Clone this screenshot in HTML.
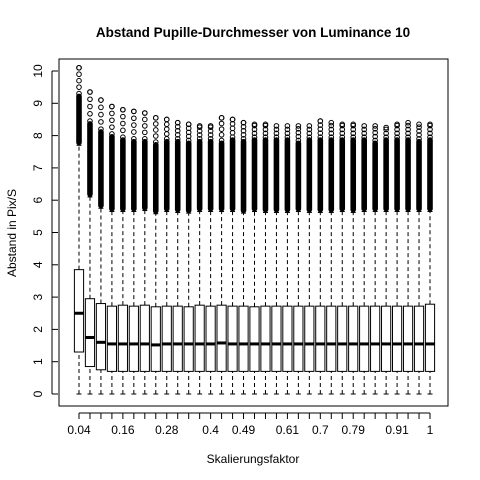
<!DOCTYPE html>
<html><head><meta charset="utf-8"><style>body{margin:0;background:#fff}svg{display:block;font-family:"Liberation Sans",Arial,sans-serif}</style></head>
<body>
<svg id="chart" width="480" height="480" viewBox="0 0 480 480" xmlns="http://www.w3.org/2000/svg">
<rect width="480" height="480" fill="#fff"/>
<text x="253" y="37" text-anchor="middle" font-size="13.5" font-weight="bold">Abstand Pupille-Durchmesser von Luminance 10</text>
<text x="253" y="463" text-anchor="middle" font-size="12">Skalierungsfaktor</text>
<text transform="translate(16,233) rotate(-90)" text-anchor="middle" font-size="12">Abstand in Pix/S</text>
<rect x="59" y="59" width="389" height="347" fill="none" stroke="#000"/>
<g id="yaxis"></g>
<g id="xaxis"></g>
<g id="marks"></g>
</svg>
<script>
const categories = ["0.04","0.07","0.1","0.13","0.16","0.19","0.22","0.25","0.28","0.31","0.34","0.37","0.4","0.43","0.46","0.49","0.52","0.55","0.58","0.61","0.64","0.67","0.7","0.73","0.76","0.79","0.82","0.85","0.88","0.91","0.94","0.97","1"];
const shownLabels = ["0.04","0.16","0.28","0.4","0.49","0.61","0.7","0.79","0.91","1"];
const yTicks = [0,1,2,3,4,5,6,7,8,9,10];
const lowerWhisker = [0,0,0,0,0,0,0,0,0,0,0,0,0,0,0,0,0,0,0,0,0,0,0,0,0,0,0,0,0,0,0,0,0];
const q1 = [1.3,0.85,0.75,0.7,0.7,0.7,0.7,0.7,0.7,0.7,0.7,0.7,0.7,0.7,0.7,0.7,0.7,0.7,0.7,0.7,0.7,0.7,0.7,0.7,0.7,0.7,0.7,0.7,0.7,0.7,0.7,0.7,0.7];
const medians = [2.5,1.75,1.6,1.55,1.55,1.55,1.55,1.52,1.55,1.55,1.55,1.55,1.55,1.58,1.55,1.55,1.55,1.55,1.55,1.55,1.55,1.55,1.55,1.55,1.55,1.55,1.55,1.55,1.55,1.55,1.55,1.55,1.55];
const q3 = [3.85,2.95,2.8,2.72,2.75,2.72,2.75,2.7,2.72,2.72,2.7,2.75,2.72,2.75,2.72,2.72,2.7,2.72,2.72,2.72,2.72,2.72,2.72,2.72,2.72,2.72,2.72,2.72,2.72,2.72,2.72,2.72,2.78];
const upperWhisker = [7.7,6.1,5.75,5.65,5.65,5.65,5.68,5.58,5.65,5.62,5.6,5.65,5.65,5.65,5.65,5.6,5.65,5.62,5.62,5.62,5.65,5.62,5.62,5.62,5.65,5.62,5.65,5.65,5.65,5.65,5.65,5.65,5.65];
const denseTop = [9.3,8.45,8.2,8.05,7.95,7.9,7.9,7.8,7.9,7.9,7.85,7.9,7.9,7.85,7.95,7.9,7.95,7.95,7.95,7.95,7.85,7.95,7.95,7.95,7.95,7.95,7.95,7.85,7.95,7.95,7.95,7.9,7.95];
const outlierMax = [10.1,9.35,9.1,8.9,8.8,8.75,8.7,8.55,8.5,8.4,8.35,8.3,8.3,8.55,8.5,8.4,8.35,8.35,8.3,8.3,8.3,8.3,8.45,8.4,8.35,8.35,8.3,8.3,8.25,8.35,8.4,8.35,8.35];

const NS="http://www.w3.org/2000/svg";
const x0=79, x1=430;
function xScale(i){return x0+(x1-x0)*i/(categories.length-1);}
function yScale(v){return 394-v*32.3;}
function mk(tag,attrs,parent){const e=document.createElementNS(NS,tag);for(const k in attrs)e.setAttribute(k,attrs[k]);parent.appendChild(e);return e;}
const ya=document.getElementById('yaxis'), xa=document.getElementById('xaxis'), mg=document.getElementById('marks');
mk('line',{x1:52,x2:52,y1:yScale(0),y2:yScale(10),stroke:'#000'},ya);
yTicks.forEach(t=>{
  const y=yScale(t);
  const l=mk('line',{x1:52,x2:58,y1:y,y2:y,stroke:'#000'},ya);
  
  
  const tx=mk('text',{transform:`translate(42,${y}) rotate(-90)`,'text-anchor':'middle','font-size':'12'},ya);
  tx.textContent=t;
  
  
});
mk('line',{x1:xScale(0),x2:xScale(categories.length-1),y1:413,y2:413,stroke:'#000'},xa);
categories.forEach((c,i)=>{
  const x=xScale(i);
  const l=mk('line',{x1:x,x2:x,y1:413,y2:419,stroke:'#000'},xa);
  
  
  if(shownLabels.includes(c)){
    const tx=mk('text',{x:x,y:434,'text-anchor':'middle','font-size':'12'},xa);
    tx.textContent=c;
    
    
  }
});
categories.forEach((c,i)=>{
  const x=xScale(i), hw=4.6;
  const g=mk('g',{},mg);
  
  
  mk('line',{x1:x,x2:x,y1:yScale(lowerWhisker[i]),y2:yScale(q1[i]),stroke:'#000','stroke-dasharray':'4,3'},g);
  mk('line',{x1:x,x2:x,y1:yScale(q3[i]),y2:yScale(upperWhisker[i]),stroke:'#000','stroke-dasharray':'4,3'},g);
  mk('line',{x1:x-2.5,x2:x+2.5,y1:yScale(lowerWhisker[i]),y2:yScale(lowerWhisker[i]),stroke:'#000'},g);
  mk('line',{x1:x-2.5,x2:x+2.5,y1:yScale(upperWhisker[i]),y2:yScale(upperWhisker[i]),stroke:'#000'},g);
  mk('rect',{x:x-hw,y:yScale(q3[i]),width:2*hw,height:yScale(q1[i])-yScale(q3[i]),fill:'#fff',stroke:'#000'},g);
  mk('line',{x1:x-hw,x2:x+hw,y1:yScale(medians[i]),y2:yScale(medians[i]),stroke:'#000','stroke-width':3},g);
  // dense outlier column
  mk('rect',{x:x-2.8,y:yScale(denseTop[i]),width:5.6,height:yScale(upperWhisker[i])-yScale(denseTop[i]),rx:2.8,fill:'#000'},g);
  // sparse outliers
  for(let v=denseTop[i];v<=outlierMax[i]+0.001;v+=Math.max(0.12,(outlierMax[i]-denseTop[i])/4)){
    mk('circle',{cx:x,cy:yScale(v),r:2.3,fill:'none',stroke:'#000'},g);
  }
  mk('circle',{cx:x,cy:yScale(outlierMax[i]),r:2.3,fill:'none',stroke:'#000'},g);
});
</script>
</body></html>
